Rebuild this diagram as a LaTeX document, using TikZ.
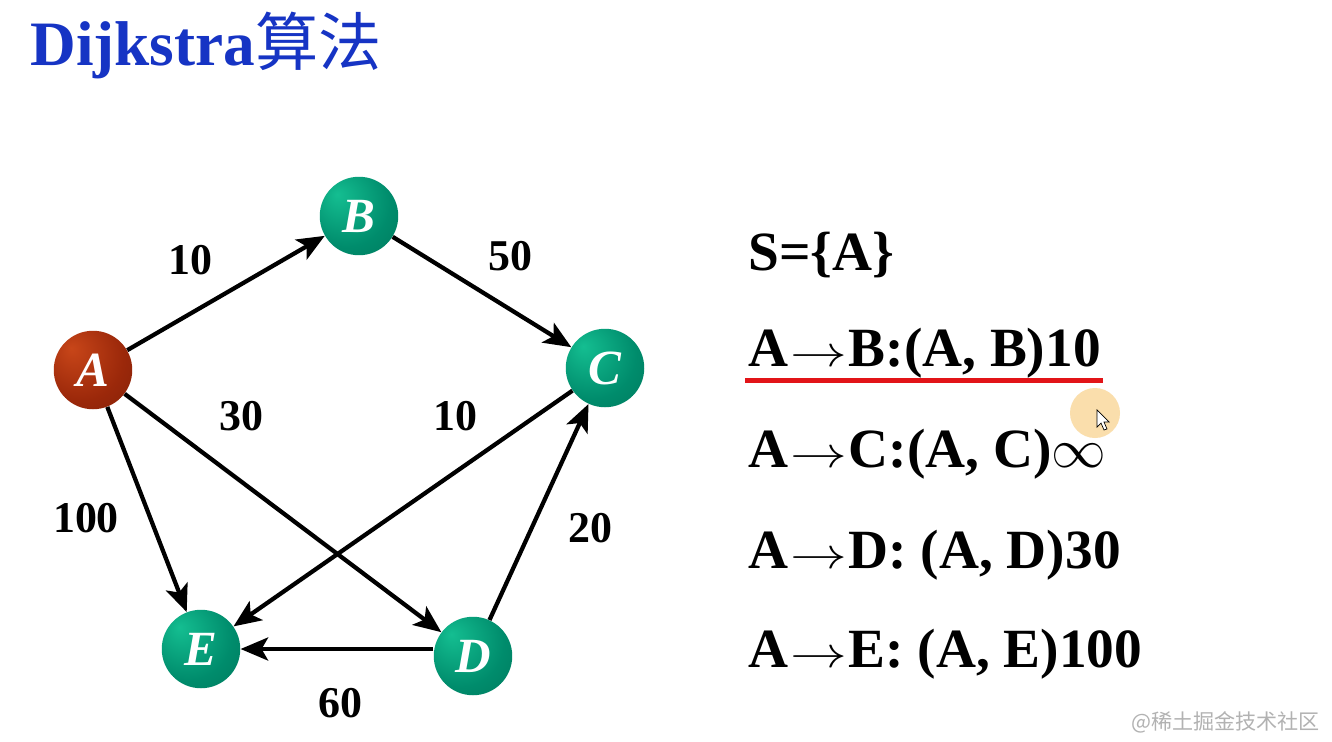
\documentclass[tikz,border=0pt]{standalone}
\usepackage{fontspec}
\setmainfont{Liberation Serif}
\newfontfamily\cjk{Noto Sans CJK SC}
\usepackage{tikz}
\usetikzlibrary{arrows.meta}
\definecolor{titleblue}{RGB}{22,52,196}
\definecolor{grnhi}{RGB}{20,190,145}
\definecolor{grnmid}{RGB}{0,140,108}
\definecolor{grndk}{RGB}{0,95,72}
\definecolor{redhi}{RGB}{200,70,25}
\definecolor{redmid}{RGB}{155,40,10}
\definecolor{reddk}{RGB}{100,22,5}
\definecolor{marker}{RGB}{226,20,24}
\definecolor{halo}{RGB}{250,222,172}
\pgfdeclareradialshading{greenball}{\pgfpoint{-14bp}{14bp}}{color(0bp)=(grnhi); color(28bp)=(grnmid); color(70bp)=(grndk)}
\pgfdeclareradialshading{redball}{\pgfpoint{-14bp}{14bp}}{color(0bp)=(redhi); color(28bp)=(redmid); color(70bp)=(reddk)}
\newcommand{\pathto}{\kern1pt\scalebox{1.3}[1]{$\rightarrow$}\kern1pt}
\newcommand{\unreached}{\scalebox{1.25}{$\infty$}}
\begin{document}
\begin{tikzpicture}[x=0.02cm,y=-0.02cm,>={Stealth[length=0.55cm,width=0.46cm,inset=0.13cm]},
  vertex/.style={circle,inner sep=0pt,minimum size=1.57cm,shading=greenball,text=white,
    font=\fontsize{28}{30}\selectfont\bfseries\itshape},
  weight/.style={font=\fontsize{25}{28}\selectfont\bfseries},
  rowtext/.style={anchor=base west,inner sep=0pt,font=\fontsize{31.5}{34}\selectfont\bfseries}]
\useasboundingbox[fill=white] (0,0) rectangle (1332,741);
\node[anchor=base west,inner sep=0pt,text=titleblue,font=\fontsize{36}{40}\selectfont\bfseries] (title) at (30,65) {Dijkstra{\cjk\mdseries 算法}};
% graph
\node[vertex,shading=redball] (A) at (93,370) {A};
\node[vertex] (B) at (359,216) {B};
\node[vertex] (C) at (605,368) {C};
\node[vertex] (D) at (473,656) {D};
\node[vertex] (E) at (201,649) {E};
\foreach \a/\b in {A/B,B/C,A/E,A/D,C/E,D/C}{\draw[->,line width=0.085cm] (\a)--(\b);}
\draw[->,line width=0.085cm] (D.west |- E.east)--(E.east);
\foreach \w/\x/\y [count=\i] in {10/190/260,50/510/256,30/241/416,10/455/416,100/86/518,20/590/528,60/340/703}{\node[weight] (w\i) at (\x,\y){\w};}
% right column
\node[rowtext] (s0) at (748,270) {S=\{A\}};
\node[rowtext] (s1) at (748,366) {A\pathto B:(A, B)10};
\node[rowtext] (s2) at (748,467) {A\pathto C:(A, C)\unreached};
\node[rowtext] (s3) at (748,568) {A\pathto D: (A, D)30};
\node[rowtext] (s4) at (748,667) {A\pathto E: (A, E)100};
\coordinate (u1) at (745,380);\coordinate (u2) at (1103,380);
\draw[marker,line width=0.1cm] (u1)--(u2);
% pointer
\fill[halo] (1095,413) circle (25);
\draw[fill=white,line width=0.4pt] (1097,410)--(1097,427)--(1101,423)--(1104,430)--(1107,429)--(1104,422)--(1109,422)--cycle;
\node[anchor=east,text=black!30,font=\cjk\fontsize{12}{14}\selectfont] (mark) at (1326,722) {@稀土掘金技术社区};
\end{tikzpicture}
\end{document}
